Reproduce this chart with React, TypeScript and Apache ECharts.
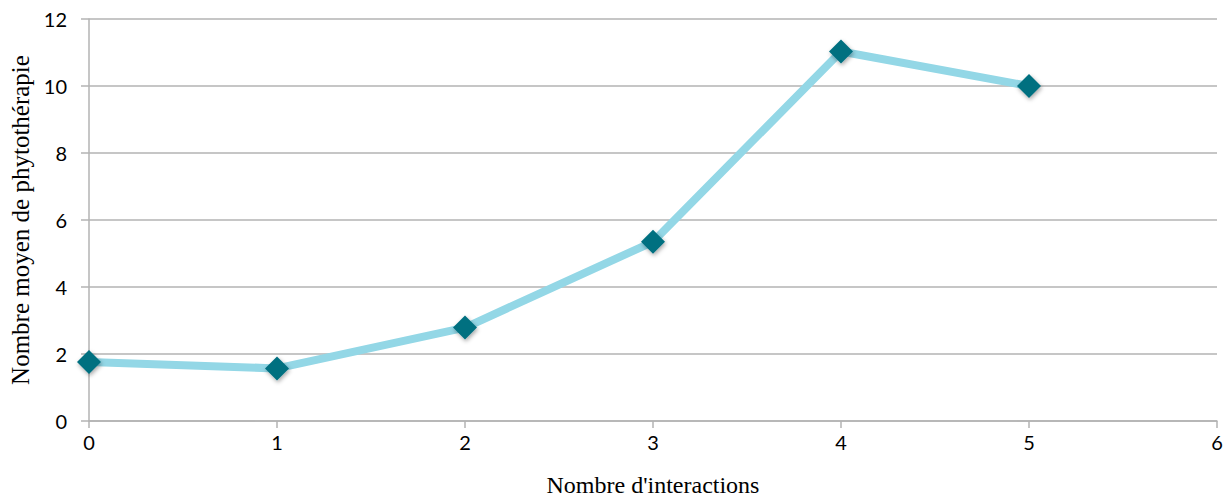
import React, { useEffect, useRef } from "react";
import * as echarts from "echarts";

const xValues = [0, 1, 2, 3, 4, 5];
const yValues = [1.76, 1.57, 2.79, 5.35, 11.03, 10.0];
const xTitle = "Nombre d'interactions";
const yTitle = "Nombre moyen de phytothérapie";

export default function App() {
  const ref = useRef<HTMLDivElement>(null);
  useEffect(() => {
    const chart = echarts.init(ref.current!, null, { renderer: "svg" });
    const gridColor = "#b3b3b3";
    chart.setOption({
      animation: false,
      backgroundColor: "#ffffff",
      grid: {
        left: 89,
        right: 8,
        top: 19,
        bottom: 78,
        containLabel: false,
        outerBoundsMode: "none",
      },
      xAxis: {
        type: "value",
        min: 0,
        max: 6,
        interval: 1,
        name: xTitle,
        nameLocation: "middle",
        nameGap: 52,
        nameTextStyle: { fontFamily: "Liberation Serif", fontSize: 24, color: "#000" },
        axisLine: { show: true, lineStyle: { color: gridColor, width: 1.5 } },
        axisTick: { show: true, length: 7, lineStyle: { color: gridColor, width: 1.5 } },
        axisLabel: { margin: 11, fontFamily: "Lato", fontSize: 20, color: "#000" },
        splitLine: { show: false },
      },
      yAxis: {
        type: "value",
        min: 0,
        max: 12,
        interval: 2,
        name: yTitle,
        nameLocation: "middle",
        nameGap: 54,
        nameTextStyle: { fontFamily: "Liberation Serif", fontSize: 25, color: "#000" },
        axisLine: { show: true, lineStyle: { color: gridColor, width: 1.5 } },
        axisTick: { show: true, length: 8, lineStyle: { color: gridColor, width: 1.5 } },
        axisLabel: { margin: 22, fontFamily: "Lato", fontSize: 20, color: "#000" },
        splitLine: { show: true, lineStyle: { color: gridColor, width: 1.5 } },
      },
      series: [
        {
          type: "line",
          data: xValues.map((x, i) => [x, yValues[i]]),
          symbol: "diamond",
          symbolSize: 24,
          lineStyle: { color: "#93d7e6", width: 8 },
          itemStyle: {
            color: "#006f80",
            shadowColor: "rgba(0,0,0,0.35)",
            shadowBlur: 4,
            shadowOffsetX: 1,
            shadowOffsetY: 2,
          },
          z: 3,
        },
      ],
    });
    return () => chart.dispose();
  }, []);
  return (
    <div
      ref={ref}
      style={{ position: "absolute", left: 0, top: 0, width: 1225, height: 499 }}
    />
  );
}
